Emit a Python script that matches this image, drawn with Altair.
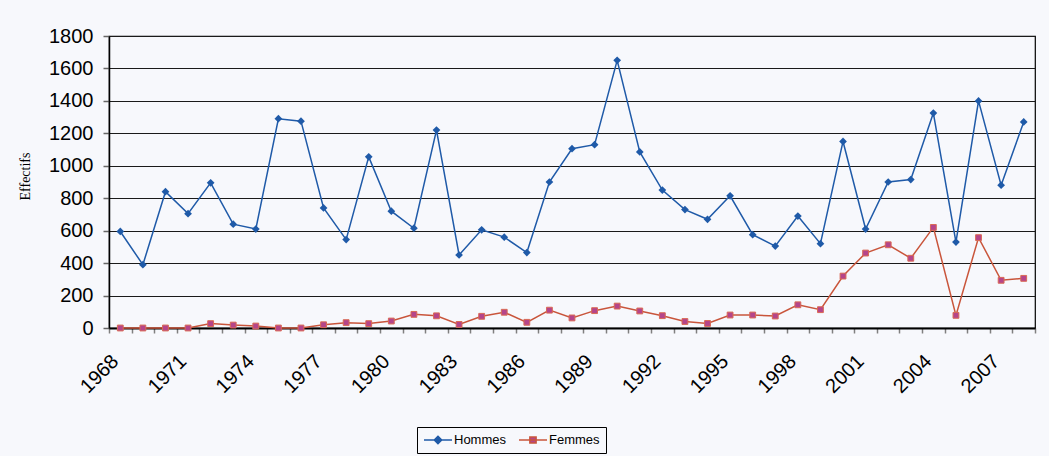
import altair as alt
import pandas as pd

# Annual headcount, 1968-2008
years = list(range(1968, 2009))
hommes = [595, 390, 840, 705, 895, 640, 610, 1290, 1275, 740,
          545, 1055, 720, 615, 1220, 450, 605, 560, 465, 900,
          1105, 1130, 1650, 1085, 850, 730, 670, 815, 575, 505,
          690, 520, 1150, 610, 900, 915, 1325, 530, 1400, 880,
          1270]
femmes = [0, 0, 0, 0, 27, 18, 12, 0, 0, 20,
          33, 27, 43, 84, 75, 22, 72, 97, 35, 110,
          62, 107, 135, 105, 76, 40, 28, 80, 80, 74,
          143, 113, 320, 462, 513, 430, 620, 78, 557, 294,
          306]
series = ["Hommes", "Femmes"]
y_ticks = list(range(0, 1801, 200))

BG = "#F7F8FC"
BLUE = "#1F5AA8"
RED = "#C9553B"
MAGENTA = "#B5458A"

df = pd.DataFrame({
    "annee": years * 2,
    "serie": ["Hommes"] * len(years) + ["Femmes"] * len(years),
    "effectif": hommes + femmes,
})

# category boundaries carry the ticks; labels sit at every third year
bounds = [y - 0.5 for y in years] + [years[-1] + 0.5]

x_enc = alt.X(
    "annee:Q",
    scale=alt.Scale(domain=[bounds[0], bounds[-1]], nice=False, zero=False),
    axis=alt.Axis(
        values=bounds, title=None, grid=False,
        labelExpr="((datum.value + 0.5 - 1968) % 3 == 0 && datum.value < 2007) ? format(datum.value + 0.5, 'd') : ''",
        labelAngle=-45, labelAlign="right", labelBaseline="middle",
        labelOffset=6, labelPadding=25, labelFlush=False,
        labelOverlap=False, labelBound=False,
        labelFont="Liberation Sans", labelFontSize=20, labelColor="#000",
        tickSize=5, tickColor="#808080", tickWidth=1.5,
        domainColor="#000", domainWidth=2,
    ),
)
y_enc = alt.Y(
    "effectif:Q",
    scale=alt.Scale(domain=[0, 1800], nice=False),
    axis=alt.Axis(
        values=y_ticks, format="d", title="Effectifs",
        titleFont="Liberation Serif", titleFontSize=14, titleFontWeight="normal",
        titleColor="#000", titleX=-84, titleY=140, titleAngle=-90,
        titleAlign="center", titleBaseline="middle",
        labelFont="Liberation Sans", labelFontSize=20, labelColor="#000",
        labelPadding=10, tickSize=6, tickColor="#666", tickWidth=1.5,
        domainColor="#000", domainWidth=1.5,
        grid=True, gridColor="#1a1a1a", gridWidth=1,
    ),
)

# legend swatch: a short line with the series marker on it
# (unit = 6 px for symbolSize 144; the line runs right of the symbol slot)
sym_shape = ("datum.value === 'Hommes' ? 'M-1,0H3.67M1.33,-0.62L1.95,0L1.33,0.62L0.71,0Z'"
             " : 'M-1,0H3.67M0.81,-0.52H1.85V0.52H0.81Z'")
sym_fill = "datum.value === 'Hommes' ? '" + BLUE + "' : '" + MAGENTA + "'"

legend = alt.Legend(
    title=None, orient="none", legendX=308, legendY=391, direction="horizontal",
    strokeColor="#000", fillColor=BG, padding=6,
    labelFont="Liberation Sans", labelFontSize=13, labelColor="#000",
    labelOffset=17, columnPadding=9,
    symbolSize=144, symbolStrokeWidth=1.5, symbolOpacity=1,
    symbolType=alt.ExprRef(sym_shape),
    symbolFillColor=alt.ExprRef(sym_fill),
)

base = alt.Chart(df).encode(x=x_enc, y=y_enc)

lines = base.mark_line(strokeWidth=1.5).encode(
    stroke=alt.Stroke("serie:N", scale=alt.Scale(domain=series, range=[BLUE, RED]), legend=legend),
)

pts_h = base.transform_filter(alt.datum.serie == "Hommes").mark_point(
    shape="diamond", filled=True, size=60, color=BLUE, opacity=1
)

pts_f = base.transform_filter(alt.datum.serie == "Femmes").mark_point(
    shape="square", filled=True, size=34, fill=MAGENTA, stroke="#DA6A55", strokeWidth=1, opacity=1
)

chart = alt.layer(lines, pts_h, pts_f).properties(
    width=926, height=292,
    background=BG,
    padding={"left": 109, "top": 36, "right": 14, "bottom": 128},
    autosize=alt.AutoSizeParams(type="none"),
).configure_view(stroke="#000", strokeWidth=1.2, fill=BG)

chart.save("out.html", embed_options={"renderer": "svg", "actions": False})
